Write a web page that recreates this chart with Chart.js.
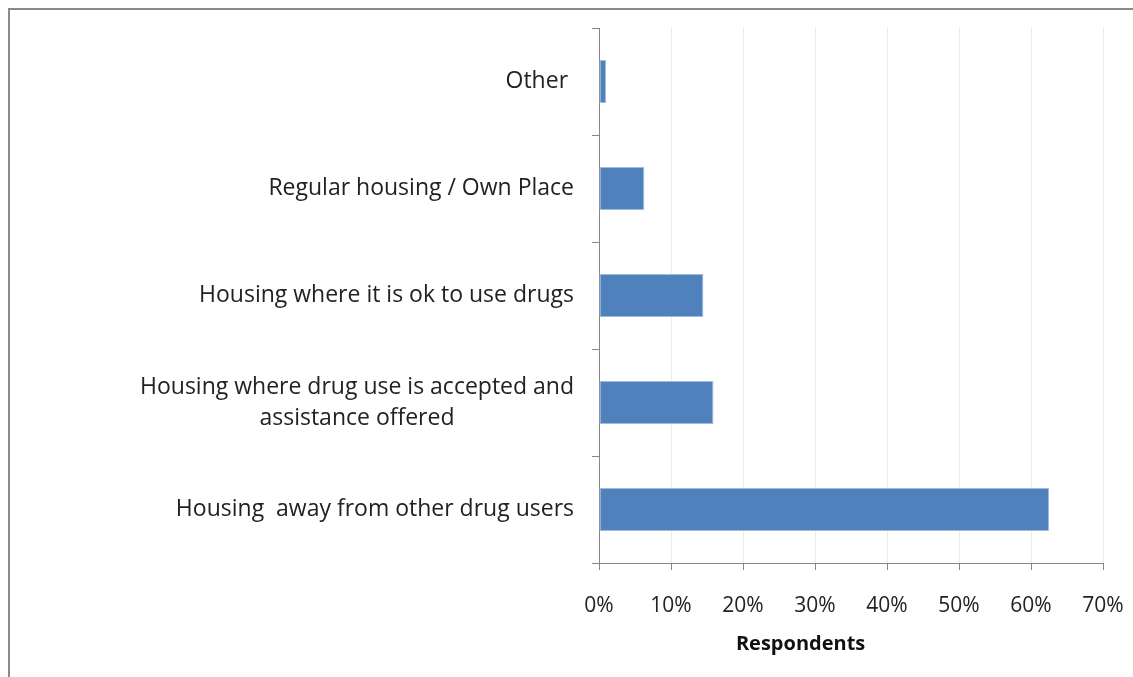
<!DOCTYPE html>
<html>
<head>
<meta charset="utf-8">
<script src="https://cdn.jsdelivr.net/npm/chart.js@4"></script>
<style>
  body { margin: 0; background: #fff; overflow: hidden; }
  .frame { position: absolute; left: 8px; top: 8px; width: 1140px; height: 690px; border: 2px solid #8a8a8a; box-sizing: border-box; }
  .wrap { position: absolute; left: 0; top: 0; width: 1133px; height: 677px; }
</style>
</head>
<body>
<div class="frame"></div>
<div class="wrap"><canvas id="grafico" width="1133" height="677"></canvas></div>
<script>
const categorias = [
    'Other ',
    'Regular housing / Own Place',
    'Housing where it is ok to use drugs',
    ['Housing where drug use is accepted and', 'assistance offered'],
    'Housing  away from other drug users'
];
const valores = [1.0, 6.3, 14.5, 15.9, 62.5];
const ticksX = [0, 10, 20, 30, 40, 50, 60, 70];
const tituloX = 'Respondents';

const fuente = 'Open Sans';
const tamEtiq = 23;
const canvas = document.querySelector('#grafico');

// center multi-line labels by padding the short lines with spaces
const ctxMedir = document.createElement('canvas').getContext('2d');
ctxMedir.font = `${tamEtiq}px "${fuente}"`;
const centrar = (lineas) => {
    if (!Array.isArray(lineas)) return lineas;
    const anchos = lineas.map((l) => ctxMedir.measureText(l).width);
    const max = Math.max(...anchos);
    const esp = ctxMedir.measureText(' ').width;
    return lineas.map((l, i) => l + ' '.repeat(Math.round((max - anchos[i]) / 2 / esp)));
};
const etiquetas = categorias.map(centrar);

const tituloEje = {
    id: 'tituloEje',
    afterDraw(chart) {
        const c = chart.ctx;
        c.save();
        c.font = `bold 20px "${fuente}"`;
        c.fillStyle = '#111';
        c.textAlign = 'center';
        c.textBaseline = 'middle';
        c.fillText(tituloX, chart.scales.x.getPixelForValue(28), 644);
        c.restore();
    }
};

const config = {
    type: 'bar',
    data: {
        labels: etiquetas,
        datasets: [{
            data: valores,
            backgroundColor: '#4f81bd',
            borderColor: '#9fbbe0',
            borderWidth: 1,
            borderSkipped: false,
            barPercentage: 0.4,
            categoryPercentage: 1
        }]
    },
    options: {
        indexAxis: 'y',
        responsive: false,
        animation: false,
        layout: { padding: { top: 28, right: 30, bottom: 0, left: 0 } },
        plugins: { legend: { display: false }, tooltip: { enabled: false } },
        scales: {
            x: {
                min: 0,
                max: 70,
                afterBuildTicks: (scale) => { scale.ticks = ticksX.map((v) => ({ value: v })); },
                afterFit: (scale) => {
                    scale.height = 114;
                    scale.paddingLeft = 0;
                    scale.paddingRight = 0;
                },
                ticks: {
                    callback: (v) => v + '%',
                    color: '#222',
                    padding: 23,
                    maxRotation: 0,
                    font: { family: fuente, size: 21 }
                },
                grid: { color: '#ebebe0', tickColor: '#868686', tickLength: 7 },
                border: { color: '#868686', width: 1 }
            },
            y: {
                afterFit: (scale) => {
                    scale.width = 599;
                    scale.paddingTop = 0;
                    scale.paddingBottom = 0;
                },
                ticks: {
                    color: '#222',
                    padding: 18,
                    font: { family: fuente, size: tamEtiq, lineHeight: 1.35 }
                },
                grid: { drawOnChartArea: false, tickColor: '#868686', tickLength: 7 },
                border: { color: '#868686', width: 1 }
            }
        }
    },
    plugins: [tituloEje]
};

new Chart(canvas, config);
</script>
</body>
</html>
